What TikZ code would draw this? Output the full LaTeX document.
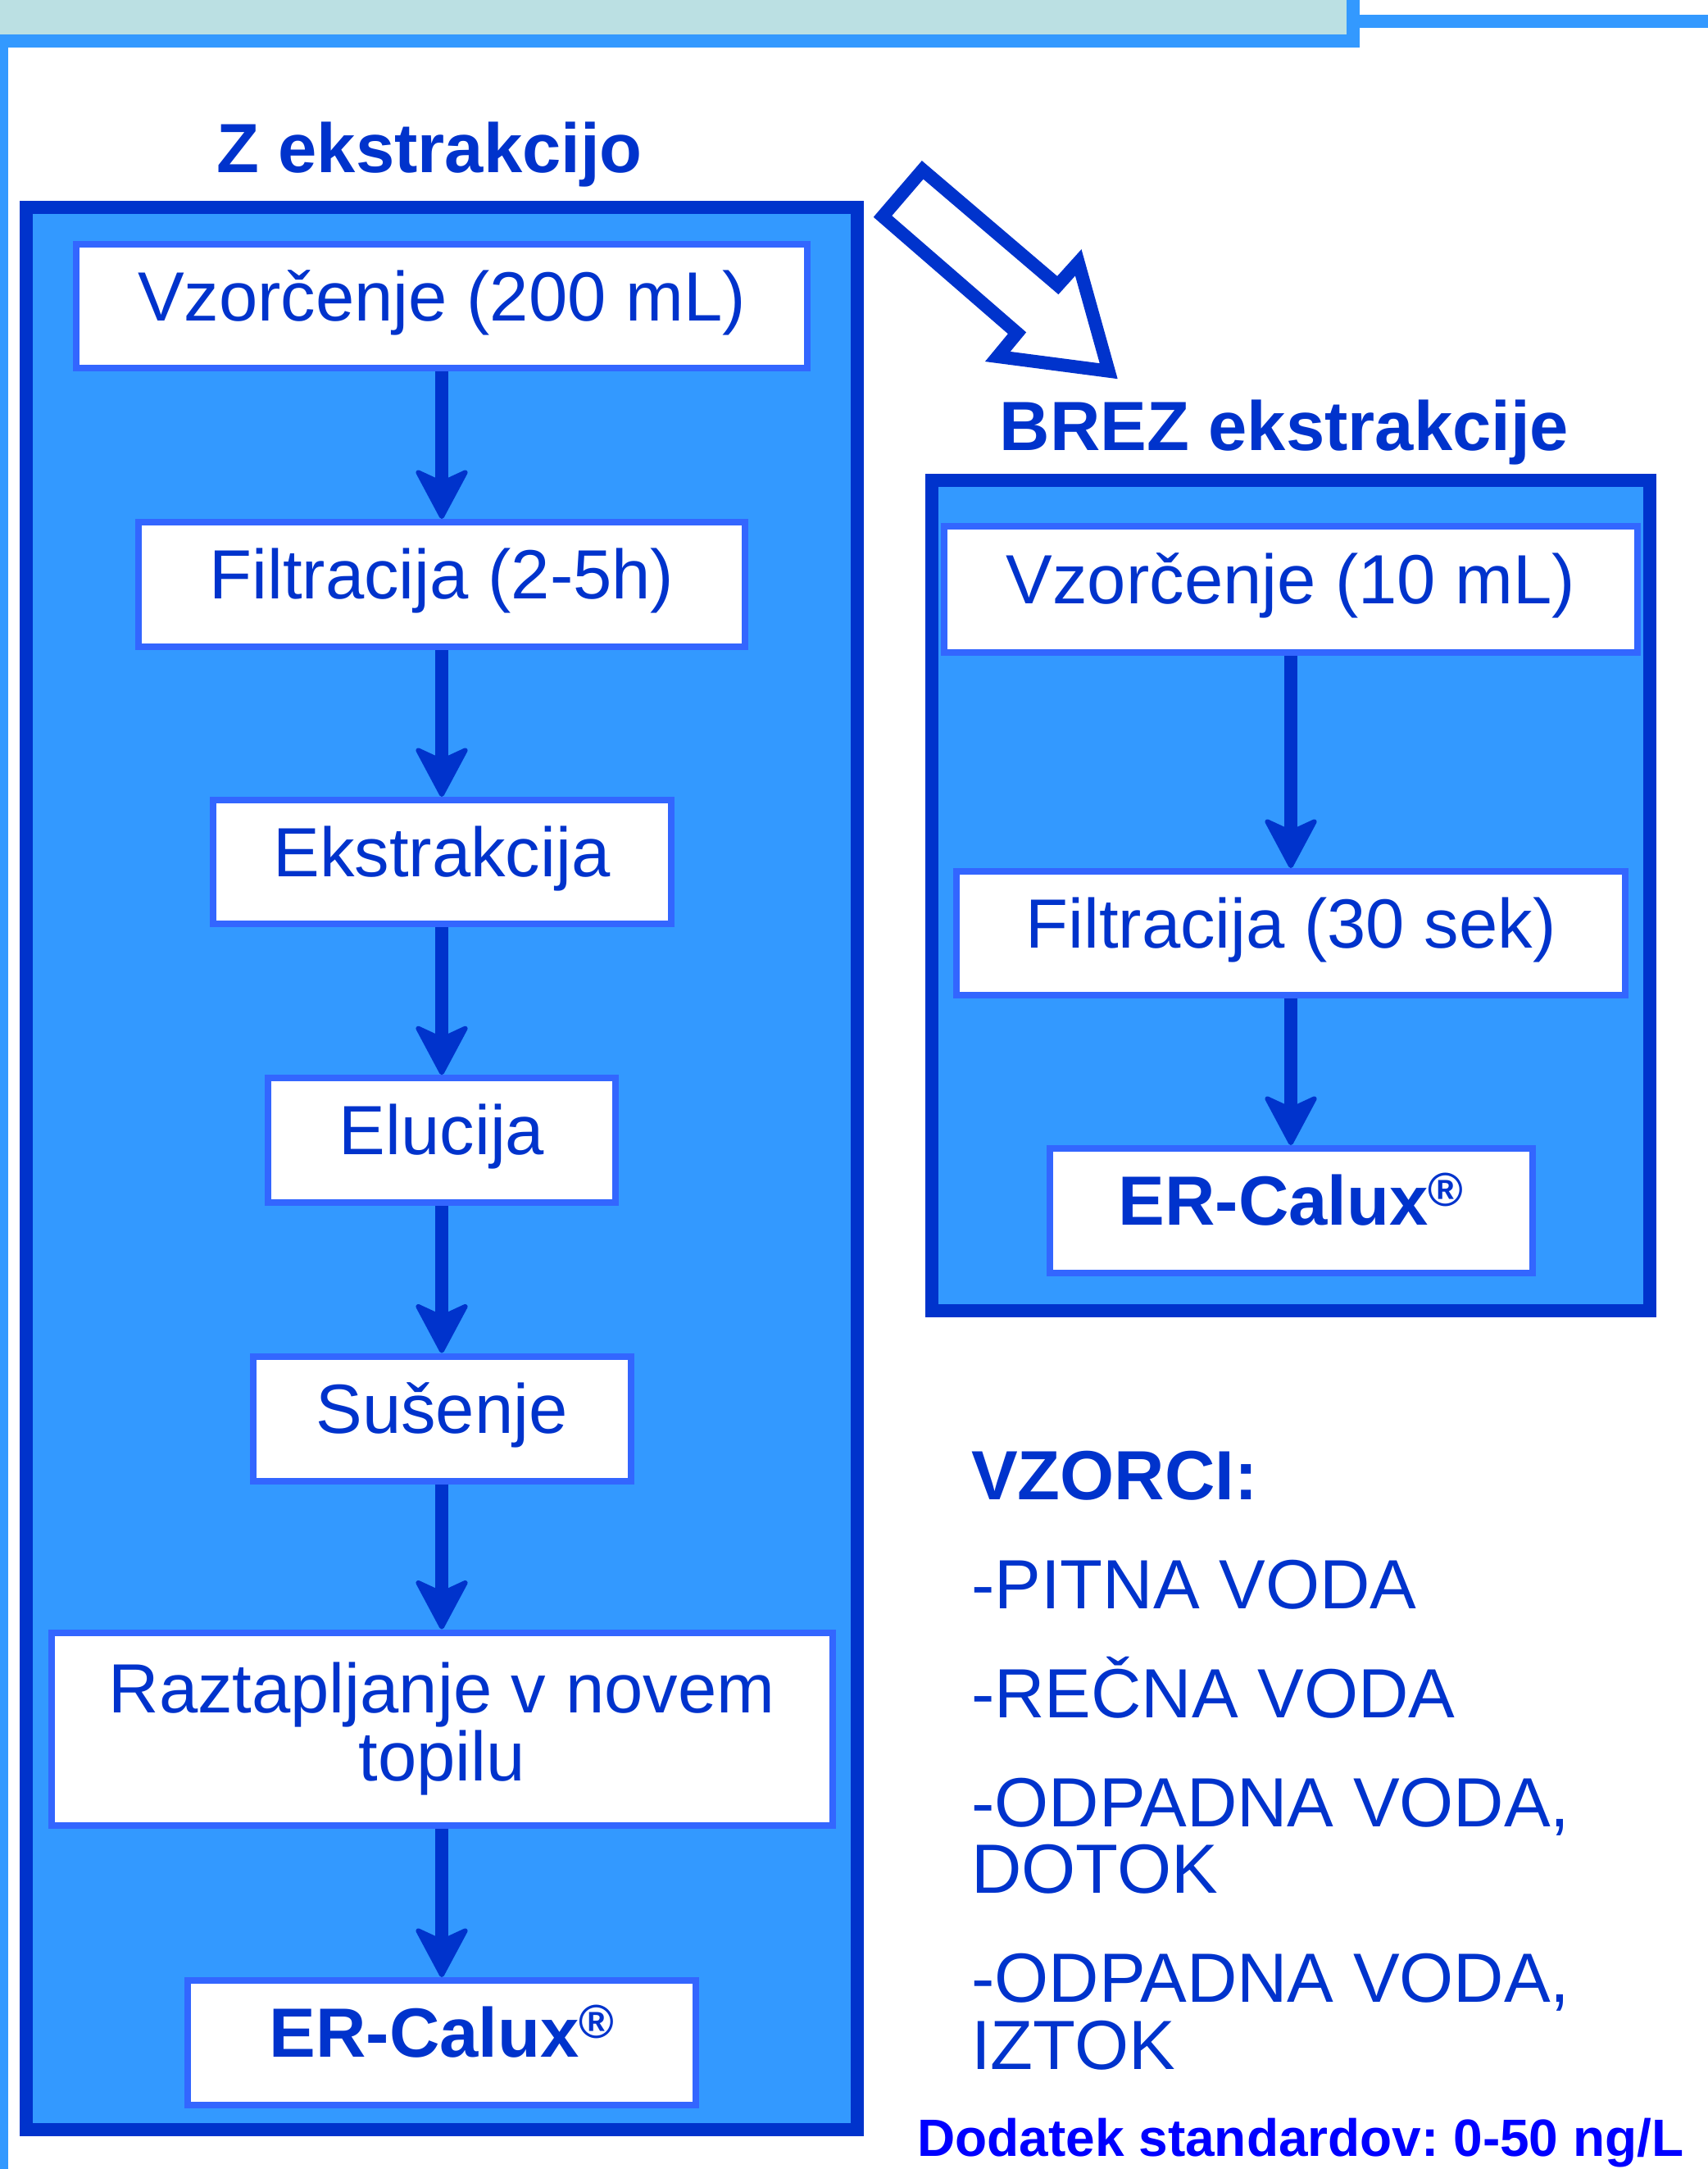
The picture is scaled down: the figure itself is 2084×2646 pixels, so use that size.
\documentclass[tikz,border=0pt]{standalone}
\usepackage{fontspec}
\setmainfont{Liberation Sans}
\usetikzlibrary{arrows.meta}
\definecolor{dblue}{HTML}{0033CC}
\definecolor{fillblue}{HTML}{3399FF}
\definecolor{boxblue}{HTML}{3366FF}
\definecolor{topteal}{HTML}{BBE0E3}
\definecolor{pureblue}{HTML}{0000FF}
\newcommand\regmark{\raisebox{23pt}{\fontsize{58}{58}\selectfont ®}}
\frenchspacing
\begin{document}
\begin{tikzpicture}[x=1pt,y=-1pt,
  stepbox/.style={draw=boxblue, line width=8pt, fill=white, inner sep=0pt, text=dblue, font=\fontsize{85}{82.5}\selectfont, align=center},
  oneline/.style={text height=61pt, text depth=26pt},
  flow/.style={draw=dblue, line width=16pt, -{Stealth[length=66pt,width=70pt,inset=16pt,round,line width=6pt]}},
  frame/.style={draw=dblue, line width=16pt, fill=fillblue},
  title/.style={text=dblue, font=\fontsize{85}{82.5}\selectfont\bfseries, inner sep=0pt, anchor=base},
  listitem/.style={text=dblue, font=\fontsize{85}{82.5}\selectfont, inner sep=0pt, anchor=base west},
]
\fill[white] (0,0) rectangle (2084,2646);
\useasboundingbox (0,0) rectangle (2084,2646);
% top decoration
\fill[topteal] (0,0) rectangle (1643,42);
\fill[fillblue] (0,42) rectangle (1659,58);
\fill[fillblue] (1643,0) rectangle (1659,42);
\fill[fillblue] (1659,18) rectangle (2084,34);
\fill[fillblue] (0,58) rectangle (10,2646);
% frames
\draw[frame] (32,253) rectangle (1046,2598);
\draw[frame] (1137,586) rectangle (2013,1599);
% titles
\node[title] (t1) at (524,211) {Z ekstrakcijo};
\node[title] (t2) at (1567,549) {BREZ ekstrakcije};
% left column
\node[stepbox,oneline,minimum width=892pt,minimum height=151pt] (l1) at (539,373.5) {Vzorčenje (200 mL)};
\node[stepbox,oneline,minimum width=740pt,minimum height=152pt] (l2) at (539,713) {Filtracija (2-5h)};
\node[stepbox,oneline,minimum width=559pt,minimum height=151pt] (l3) at (539,1051.5) {Ekstrakcija};
\node[stepbox,oneline,minimum width=424pt,minimum height=151.5pt] (l4) at (539,1391) {Elucija};
\node[stepbox,oneline,minimum width=461pt,minimum height=152pt] (l5) at (539,1730.5) {Sušenje};
\node[stepbox,minimum width=953pt,minimum height=235pt] (l6) at (539,2109) {Raztapljanje v novem\\topilu};
\node[stepbox,oneline,minimum width=620pt,minimum height=152pt] (l7) at (539,2492) {\bfseries ER-Calux\regmark};
\draw[flow] (l1.south) -- (l2.north);
\draw[flow] (l2.south) -- (l3.north);
\draw[flow] (l3.south) -- (l4.north);
\draw[flow] (l4.south) -- (l5.north);
\draw[flow] (l5.south) -- (l6.north);
\draw[flow] (l6.south) -- (l7.north);
% right column
\node[stepbox,oneline,minimum width=846pt,minimum height=154pt] (r1) at (1575,719) {Vzorčenje (10 mL)};
\node[stepbox,oneline,minimum width=816pt,minimum height=151pt] (r2) at (1575,1138.5) {Filtracija (30 sek)};
\node[stepbox,oneline,minimum width=589pt,minimum height=152pt] (r3) at (1575,1477) {\bfseries ER-Calux\regmark};
\draw[flow] (r1.south) -- (r2.north);
\draw[flow] (r2.south) -- (r3.north);
% big hollow arrow
\draw[draw=dblue, line width=16pt, fill=white, miter limit=10]
  (1125.7,207.3) -- (1290.7,348) -- (1315.7,320.3) -- (1352.7,452.7)
  -- (1217.3,435) -- (1241,406.3) -- (1077,264) -- cycle;
% samples list
\node[title, anchor=base west] (v0) at (1185,1829) {VZORCI:};
\node[listitem] (v1) at (1185,1962) {-PITNA VODA};
\node[listitem] (v2) at (1185,2095) {-REČNA VODA};
\node[listitem] (v3a) at (1185,2228) {-ODPADNA VODA,};
\node[listitem] (v3b) at (1185,2309) {DOTOK};
\node[listitem] (v4a) at (1185,2442) {-ODPADNA VODA,};
\node[listitem] (v4b) at (1185,2524.5) {IZTOK};
\node[anchor=base west, inner sep=0pt, text=pureblue, font=\fontsize{64}{64}\selectfont\bfseries] (std) at (1119,2630) {Dodatek standardov: 0-50 ng/L};
\end{tikzpicture}
\end{document}
